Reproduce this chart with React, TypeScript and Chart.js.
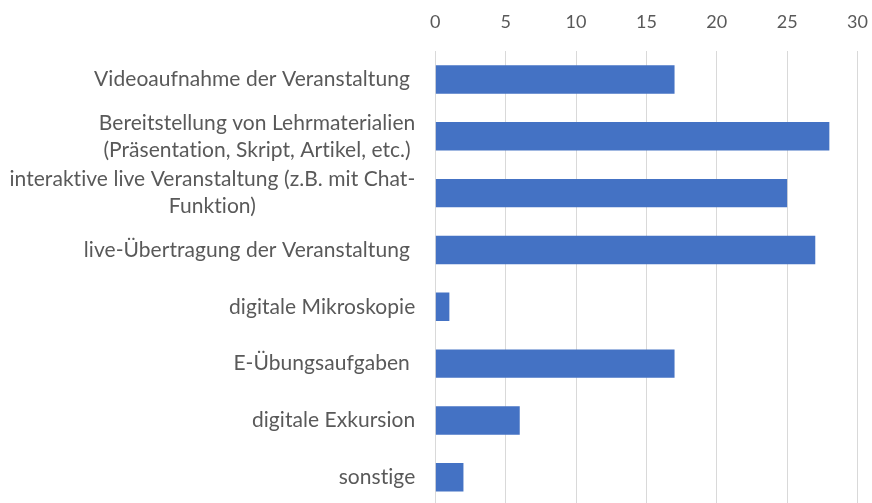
import React, { useEffect, useRef } from "react";
import { Chart, registerables } from "chart.js";

Chart.register(...registerables);

const categories: string[][] = [
  ["Videoaufnahme der Veranstaltung "],
  ["Bereitstellung von Lehrmaterialien", "(Präsentation, Skript, Artikel, etc.)"],
  ["interaktive live Veranstaltung (z.B. mit Chat-", "Funktion)"],
  ["live-Übertragung der Veranstaltung "],
  ["digitale Mikroskopie"],
  ["E-Übungsaufgaben "],
  ["digitale Exkursion"],
  ["sonstige"],
];
const values: number[] = [17, 28, 25, 27, 1, 17, 6, 2];
const xMin = 0;
const xMax = 30;
const xStep = 5;

const FONT = "Lato, 'Noto Sans', sans-serif";
const TEXT_COLOR = "#595959";

const labelPlugin = {
  id: "centeredLabels",
  afterDraw(chart: any) {
    const ctx = chart.ctx;
    const yScale = chart.scales.y;
    const right = chart.chartArea.left - 20;
    const lh = 27;
    ctx.save();
    ctx.font = `21px ${FONT}`;
    try {
      (ctx as any).letterSpacing = "0.05px";
    } catch (e) {}
    ctx.fillStyle = TEXT_COLOR;
    ctx.textBaseline = "middle";
    ctx.textAlign = "center";
    categories.forEach((lines, i) => {
      const w = Math.max(...lines.map((l) => ctx.measureText(l).width));
      const cx = right - w / 2;
      const y0 = yScale.getPixelForTick(i) - ((lines.length - 1) * lh) / 2;
      lines.forEach((l, j) => ctx.fillText(l, cx, y0 + j * lh));
    });
    ctx.restore();
  },
};

export default function App() {
  const ref = useRef<HTMLCanvasElement>(null);
  useEffect(() => {
    if (!ref.current) return;
    const chart = new Chart(ref.current, {
      type: "bar",
      data: {
        labels: categories.map((c) => c.join(" ")),
        datasets: [
          {
            data: values,
            backgroundColor: "#4472C4",
            borderWidth: 0,
            barPercentage: 0.5,
            categoryPercentage: 1,
          },
        ],
      },
      options: {
        indexAxis: "y",
        responsive: false,
        animation: false,
        layout: { padding: { left: 435.3, right: 14.5, top: 11, bottom: 6.3 } },
        plugins: { legend: { display: false }, tooltip: { enabled: false } },
        scales: {
          x: {
            position: "top",
            min: xMin,
            max: xMax,
            ticks: {
              stepSize: xStep,
              color: TEXT_COLOR,
              font: { family: FONT, size: 18 },
              padding: 18,
            },
            grid: { color: "#d9d9d9", lineWidth: 1, drawTicks: false },
            border: { display: false },
            afterFit: (s: any) => {
              s.height = 40;
              s.paddingLeft = 0;
              s.paddingRight = 0;
              s.paddingTop = 0;
              s.paddingBottom = 0;
            },
          },
          y: {
            ticks: { display: false },
            grid: { display: false, drawTicks: false },
            border: { display: false },
            afterFit: (s: any) => {
              s.width = 0;
              s.paddingLeft = 0;
              s.paddingRight = 0;
              s.paddingTop = 0;
              s.paddingBottom = 0;
            },
          },
        },
      },
      plugins: [labelPlugin],
    });
    return () => chart.destroy();
  }, []);
  return (
    <div style={{ position: "absolute", left: 0, top: 0, width: 872, height: 512 }}>
      <canvas ref={ref} width={872} height={512} />
    </div>
  );
}
